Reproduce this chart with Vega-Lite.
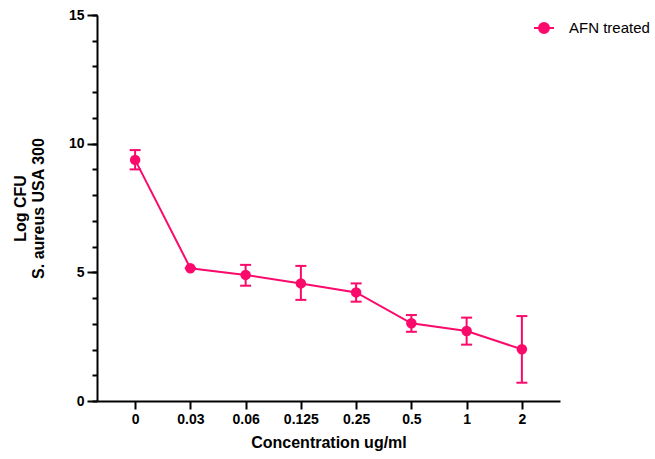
{
  "$schema": "https://vega.github.io/schema/vega-lite/v6.json",
  "width": 463,
  "height": 386,
  "autosize": "none",
  "padding": {"left": 97, "top": 15, "right": 95, "bottom": 58},
  "background": "white",
  "config": {"view": {"stroke": null}, "font": "Liberation Sans"},
  "data": {
    "values": [
      {"conc": "0", "mean": 9.37, "lo": 9.0, "hi": 9.75},
      {"conc": "0.03", "mean": 5.16, "lo": 5.16, "hi": 5.16},
      {"conc": "0.06", "mean": 4.9, "lo": 4.48, "hi": 5.29},
      {"conc": "0.125", "mean": 4.57, "lo": 3.93, "hi": 5.25},
      {"conc": "0.25", "mean": 4.22, "lo": 3.86, "hi": 4.57},
      {"conc": "0.5", "mean": 3.02, "lo": 2.69, "hi": 3.34},
      {"conc": "1", "mean": 2.72, "lo": 2.19, "hi": 3.24},
      {"conc": "2", "mean": 2.01, "lo": 0.71, "hi": 3.3}
    ]
  },
  "encoding": {
    "x": {
      "field": "conc",
      "type": "ordinal",
      "sort": ["0", "0.03", "0.06", "0.125", "0.25", "0.5", "1", "2"],
      "scale": {"type": "point", "padding": 0.69},
      "axis": {
        "title": "Concentration ug/ml",
        "labelAngle": 0,
        "labelFontWeight": "bold",
        "labelFontSize": 14,
        "labelColor": "black",
        "tickSize": 8,
        "tickWidth": 2,
        "tickColor": "black",
        "domainColor": "black",
        "domainWidth": 2,
        "labelPadding": 3,
        "titleFontSize": 16,
        "titleFontWeight": "bold",
        "titleColor": "black",
        "titlePadding": 8,
        "grid": false
      }
    }
  },
  "resolve": {"scale": {"y": "independent"}, "axis": {"y": "independent"}},
  "layer": [
    {
      "mark": {"type": "rule", "color": "#FA0A6A", "strokeWidth": 2},
      "encoding": {
        "y": {
          "field": "lo",
          "type": "quantitative",
          "scale": {"domain": [0, 15], "nice": false, "zero": false},
          "axis": {
            "orient": "left",
            "values": [0, 5, 10, 15],
            "title": ["Log CFU", "S. aureus USA 300"],
            "titleFontWeight": "bold",
            "titleFontSize": 16,
            "titleColor": "black",
            "titleLineHeight": 18,
            "titlePadding": 22,
            "labelFontSize": 14,
            "labelFontWeight": "bold",
            "labelColor": "black",
            "labelPadding": 3,
            "tickSize": 10,
            "tickWidth": 2,
            "tickColor": "black",
            "domainColor": "black",
            "domainWidth": 2,
            "grid": false
          }
        },
        "y2": {"field": "hi"}
      }
    },
    {
      "mark": {"type": "tick", "color": "#FA0A6A", "size": 11, "thickness": 2, "opacity": 1},
      "encoding": {
        "y": {"field": "lo", "type": "quantitative", "scale": {"domain": [0, 15], "nice": false, "zero": false}, "axis": null}
      }
    },
    {
      "mark": {"type": "tick", "color": "#FA0A6A", "size": 11, "thickness": 2, "opacity": 1},
      "encoding": {
        "y": {"field": "hi", "type": "quantitative", "scale": {"domain": [0, 15], "nice": false, "zero": false}, "axis": null}
      }
    },
    {
      "mark": {"type": "line", "strokeWidth": 2},
      "encoding": {
        "y": {
          "field": "mean",
          "type": "quantitative",
          "scale": {"domain": [0, 15], "nice": false, "zero": false},
          "axis": {
            "orient": "left",
            "values": [0, 1, 2, 3, 4, 5, 6, 7, 8, 9, 10, 11, 12, 13, 14, 15],
            "labels": false,
            "domain": false,
            "title": null,
            "tickSize": 5,
            "tickWidth": 2,
            "tickColor": "black",
            "grid": false
          }
        },
        "color": {
          "datum": "AFN treated",
          "scale": {"range": ["#FA0A6A"]},
          "legend": {
            "title": null,
            "orient": "none",
            "legendX": 436,
            "legendY": 2,
            "padding": 0,
            "symbolType": "M-1,0L1,0M0.5,0A0.5,0.5 0 1,1 -0.5,0A0.5,0.5 0 1,1 0.5,0Z",
            "symbolSize": 400,
            "symbolStrokeWidth": 2,
            "symbolFillColor": "#FA0A6A",
            "symbolStrokeColor": "#FA0A6A",
            "symbolOpacity": 1,
            "labelFontSize": 15,
            "labelColor": "black",
            "labelOffset": 14
          }
        }
      }
    },
    {
      "mark": {"type": "point", "filled": true, "size": 110, "opacity": 1},
      "encoding": {
        "y": {"field": "mean", "type": "quantitative", "scale": {"domain": [0, 15], "nice": false, "zero": false}, "axis": null},
        "color": {"datum": "AFN treated"}
      }
    }
  ]
}
